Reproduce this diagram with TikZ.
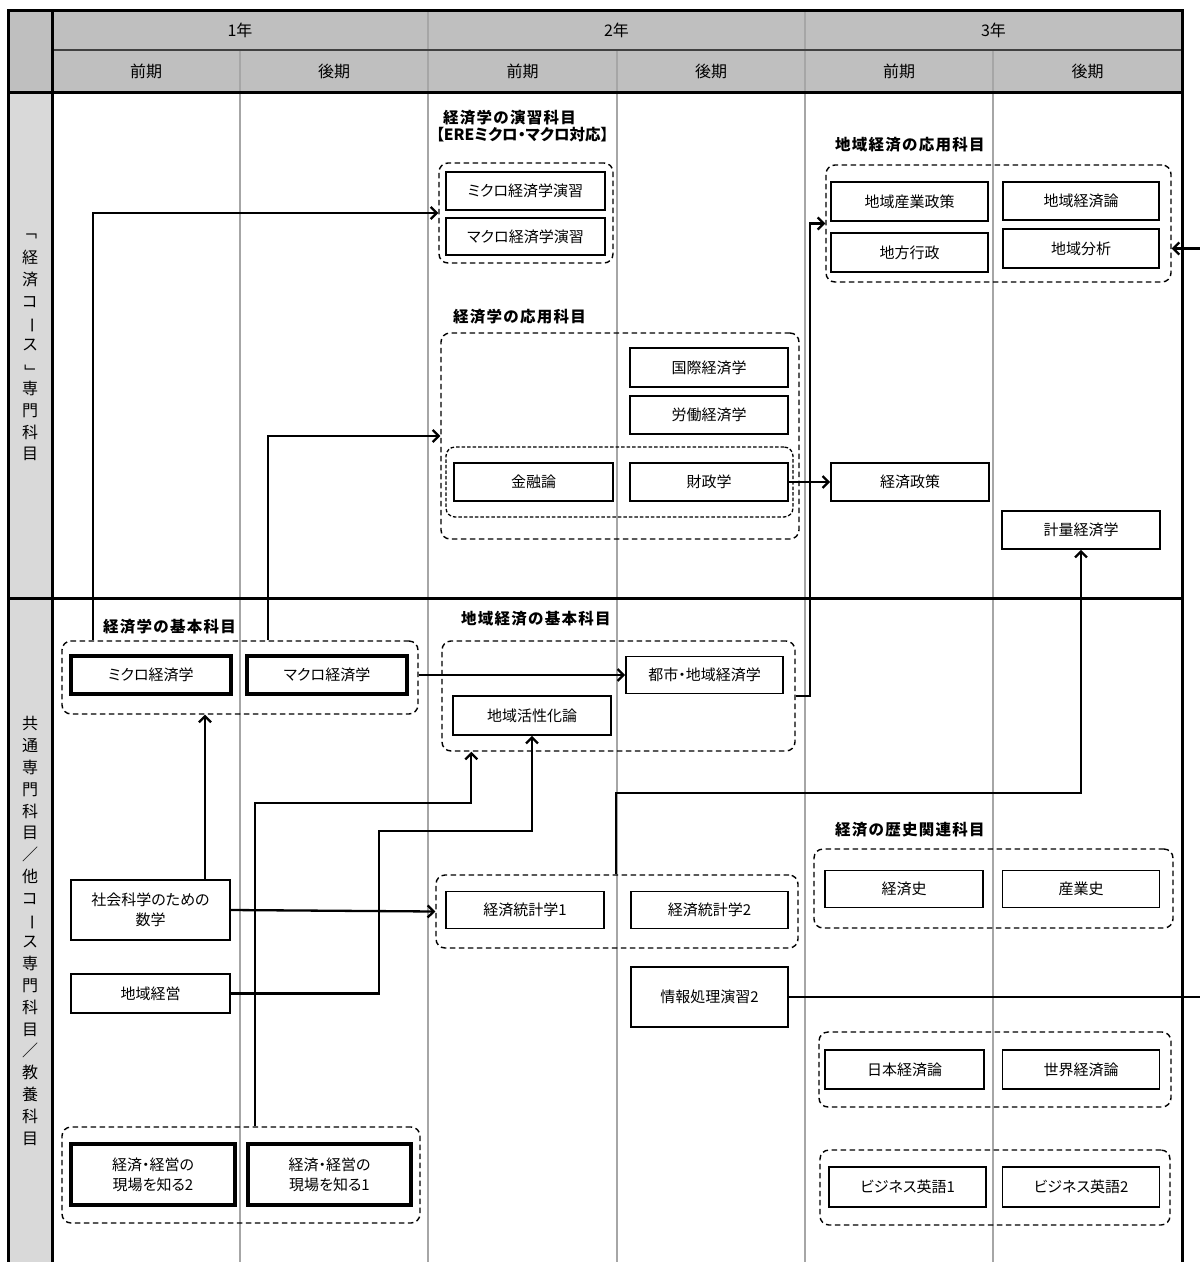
\documentclass[tikz,border=0pt]{standalone}
\usepackage{fontspec}
\usepackage{graphicx}
\setmainfont{Noto Sans CJK JP}[RawFeature=+palt]
\newfontfamily\ttlfont{Noto Sans CJK JP}[LetterSpace=8]
\usetikzlibrary{arrows.meta}
\definecolor{hdr}{HTML}{BFBFBF}
\definecolor{lcol}{HTML}{D9D9D9}
\definecolor{gridc}{HTML}{A6A6A6}
\newcommand\boxfs{\fontsize{15}{20}\selectfont}
\newcommand\hdfs{\fontsize{16}{19}\selectfont}
\newcommand\ttlfs{\ttlfont\bfseries\fontsize{15.5}{18}\selectfont}
\newcommand\subfs{\bfseries\fontsize{15.5}{17}\selectfont}
\newcommand\rv[1]{\rotatebox[origin=c]{-90}{#1}}
\begin{document}
\begin{tikzpicture}[x=1pt,y=-1pt,
  frame/.style={line width=3pt,black},
  gridline/.style={line width=2pt,gridc},
  hd/.style={font=\hdfs,inner sep=0},
  vt/.style={align=center,font=\fontsize{16}{21.8}\selectfont,inner sep=0},
  ttl/.style={font=\ttlfs,anchor=west,inner sep=0},
  grp/.style={draw,line width=1.4pt,dash pattern=on 5.5pt off 3.5pt,rounded corners=9pt,inner sep=0},
  igrp/.style={draw,line width=1.3pt,dash pattern=on 3.5pt off 2pt,rounded corners=9pt,inner sep=0},
  box/.style={draw,line width=1.6pt,fill=white,inner sep=1pt,align=center,font=\boxfs},
  tbox/.style={box,line width=3.5pt},
  arr/.style={line width=2.3pt,-{Straight Barb[length=6pt,width=12pt]}},
  ln/.style={line width=2.3pt}
]
\useasboundingbox (0,0) rectangle (1200,1262);
% ---- table background ----
\fill[hdr] (8,10) rectangle (1182,92);
\fill[lcol] (8,92) rectangle (52,1262);
\draw[gridline] (428,10) -- (428,1262);
\draw[gridline] (805,10) -- (805,1262);
\draw[gridline] (240,50) -- (240,1262);
\draw[gridline] (617,50) -- (617,1262);
\draw[gridline] (993,50) -- (993,1262);
\draw[line width=2pt,black!75] (52,50) -- (1182,50);
\draw[frame] (8,1262) -- (8,10) -- (1182,10) -- (1182,1262);
\draw[frame] (8,92) -- (1182,92);
\draw[frame] (52,10) -- (52,1262);
\draw[frame] (8,598) -- (1182,598);
% ---- headers ----
\node[hd] (y1) at (240,30) {1年};
\node[hd] (y2) at (616.5,30) {2年};
\node[hd] (y3) at (993.5,30) {3年};
\node[hd] (s1) at (146,71) {前期};
\node[hd] (s2) at (334,71) {後期};
\node[hd] (s3) at (522.5,71) {前期};
\node[hd] (s4) at (711,71) {後期};
\node[hd] (s5) at (899,71) {前期};
\node[hd] (s6) at (1087.5,71) {後期};
\node[vt] (secA) at (30,346) {\rv{「}\\経\\済\\コ\\\rv{ー}\\ス\\\rv{」}\\専\\門\\科\\目};
\node[vt] (secB) at (30,931) {共\\通\\専\\門\\科\\目\\／\\他\\コ\\\rv{ー}\\ス\\専\\門\\科\\目\\／\\教\\養\\科\\目};
% ---- group titles ----
\node[ttl] (ensT1) at (443,118) {経済学の演習科目};
\node[font=\subfs,anchor=west,inner sep=0] (ensT2) at (436,135) {【EREミクロ・マクロ対応】};
\node[ttl] (chouyouT) at (835,145) {地域経済の応用科目};
\node[ttl] (ouyouT) at (453,317) {経済学の応用科目};
\node[ttl] (kihonT) at (103,627) {経済学の基本科目};
\node[ttl] (chkihonT) at (461,619) {地域経済の基本科目};
\node[ttl] (rekishiT) at (835,830) {経済の歴史関連科目};
% ---- dashed groups ----
\node[grp,minimum width=174,minimum height=100] (ens) at (526,213) {};
\node[grp,minimum width=345,minimum height=117] (chouyou) at (998.5,223.5) {};
\node[grp,minimum width=358,minimum height=206] (ouyou) at (620,436) {};
\node[igrp,minimum width=347,minimum height=70] (zk) at (619.5,482) {};
\node[grp,minimum width=356,minimum height=73] (kihon) at (240,677.5) {};
\node[grp,minimum width=353,minimum height=110] (chkihon) at (618.5,696) {};
\node[grp,minimum width=362,minimum height=73] (toukei) at (617,911.5) {};
\node[grp,minimum width=359,minimum height=79] (rekishi) at (993.5,888.5) {};
\node[grp,minimum width=352,minimum height=75] (nihon) at (995,1069.5) {};
\node[grp,minimum width=350,minimum height=75] (biz) at (995,1187.5) {};
\node[grp,minimum width=358,minimum height=96] (genba) at (241,1175) {};
% ---- course boxes ----
\node[box,minimum width=159,minimum height=38] (ensM) at (525.5,191) {ミクロ経済学演習};
\node[box,minimum width=159,minimum height=37] (ensMa) at (525.5,236.5) {マクロ経済学演習};
\node[box,minimum width=157,minimum height=39] (sangyo) at (909.5,201.5) {地域産業政策};
\node[box,minimum width=156,minimum height=38] (chron) at (1081,201) {地域経済論};
\node[box,minimum width=157,minimum height=39] (gyosei) at (909.5,252.5) {地方行政};
\node[box,minimum width=156,minimum height=39] (bunseki) at (1081,248.5) {地域分析};
\node[box,minimum width=158,minimum height=39] (kokusai) at (709,367.5) {国際経済学};
\node[box,minimum width=158,minimum height=38] (rodo) at (709,415) {労働経済学};
\node[box,minimum width=159,minimum height=38] (kinyu) at (533.5,482) {金融論};
\node[box,minimum width=158,minimum height=38] (zaisei) at (709,482) {財政学};
\node[box,minimum width=158,minimum height=38] (seisaku) at (910,482) {経済政策};
\node[box,minimum width=158,minimum height=38] (keiryo) at (1081,530) {計量経済学};
\node[tbox,minimum width=160,minimum height=38] (micro) at (151,675) {ミクロ経済学};
\node[tbox,minimum width=160,minimum height=38] (macro) at (327,675) {マクロ経済学};
\node[box,minimum width=157,minimum height=37] (toshi) at (704.5,675) {都市・地域経済学};
\node[box,minimum width=158,minimum height=39] (kassei) at (532,715.5) {地域活性化論};
\node[box,minimum width=159,minimum height=60] (sugaku) at (150.5,910) {社会科学のための\\数学};
\node[box,minimum width=159,minimum height=39] (keiei) at (150.5,993.5) {地域経営};
\node[tbox,minimum width=164,minimum height=61] (genba2) at (153,1174.5) {経済・経営の\\現場を知る2};
\node[tbox,minimum width=163,minimum height=61] (genba1) at (329.5,1174.5) {経済・経営の\\現場を知る1};
\node[box,minimum width=158,minimum height=37] (toukei1) at (525,910) {経済統計学1};
\node[box,minimum width=157,minimum height=37] (toukei2) at (709.5,910) {経済統計学2};
\node[box,minimum width=157,minimum height=60] (joho) at (709.5,997) {情報処理演習2};
\node[box,minimum width=158,minimum height=37] (keizaishi) at (904,889) {経済史};
\node[box,minimum width=157,minimum height=37] (sangyoshi) at (1081,889) {産業史};
\node[box,minimum width=159,minimum height=39] (nihonk) at (904.5,1069.5) {日本経済論};
\node[box,minimum width=157,minimum height=39] (sekai) at (1081,1069.5) {世界経済論};
\node[box,minimum width=157,minimum height=40] (biz1) at (907.5,1187) {ビジネス英語1};
\node[box,minimum width=157,minimum height=40] (biz2) at (1081,1187) {ビジネス英語2};
% ---- connectors ----
\coordinate (kA) at ([xshift=32pt]kihon.north west);
\coordinate (kB) at ([xshift=207pt]kihon.north west);
\draw[arr] (kA) |- (ens.west);
\draw[arr] (kB) |- (ouyou.west);
\draw[arr] (zaisei.east) -- (seisaku.west);
\draw[arr] (kihon.east |- toshi.west) -- (toshi.west);
\draw[arr] (chkihon.east) -- ++(14,0) |- (chouyou.west);
\coordinate (sA) at ([xshift=54.5pt]sugaku.north);
\draw[arr] (sA) -- (sA |- kihon.south);
\draw[arr] (sugaku.east) -- (toukei.west);
\draw[arr] (keiei.east) -| (379,831) -| (kassei.south);
\coordinate (gA) at ([xshift=194pt]genba.north west);
\coordinate (gB) at ([xshift=30pt]chkihon.south west);
\draw[arr] (gA) -- ++(0,-323) -| (gB);
\coordinate (tA) at ([xshift=181pt]toukei.north west);
\draw[arr] (tA) -- ++(0,-81) -| (keiryo.south);
\coordinate (offA) at (1200,997);
\coordinate (offB) at (1200,248.5);
\draw[ln] (joho.east) -- (offA);
\draw[arr] (offB) -- (chouyou.east |- offB);
\end{tikzpicture}
\end{document}
